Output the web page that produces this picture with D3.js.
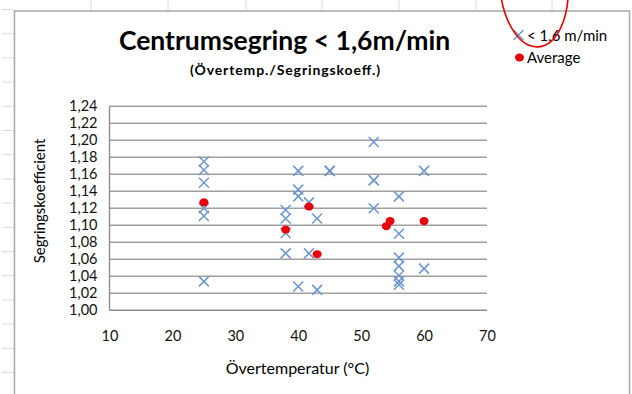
<!DOCTYPE html>
<html>
<head>
<meta charset="utf-8">
<script src="https://cdn.jsdelivr.net/npm/d3@7"></script>
<style>
  html, body { margin: 0; padding: 0; background: #fff; }
  svg { display: block; font-family: Lato, "Open Sans", sans-serif; }
</style>
</head>
<body>
<svg id="chart" width="632" height="394"></svg>
<script>
// Series "< 1,6 m/min" (cross markers)
const measuredX = [25, 25, 25, 25, 25, 25,
                   38, 38, 38, 38,
                   40, 40, 40, 40,
                   41.7, 41.7,
                   43, 43,
                   45, 45,
                   52, 52, 52, 52,
                   56, 56, 56, 56, 56, 56, 56,
                   60, 60];
const measuredY = [1.175, 1.165, 1.150, 1.120, 1.111, 1.034,
                   1.118, 1.108, 1.091, 1.067,
                   1.164, 1.142, 1.134, 1.028,
                   1.127, 1.067,
                   1.108, 1.024,
                   1.164, 1.164,
                   1.198, 1.153, 1.153, 1.120,
                   1.134, 1.090, 1.062, 1.052, 1.041, 1.034, 1.030,
                   1.164, 1.049];

// Series "Average" (red dots)
const averageX = [25, 38, 41.7, 43, 54, 54.6, 60];
const averageY = [1.127, 1.095, 1.122, 1.066, 1.099, 1.105, 1.105];

// Axis ticks
const xTicks = [10, 20, 30, 40, 50, 60, 70];
const yTicks = [1.00, 1.02, 1.04, 1.06, 1.08, 1.10, 1.12, 1.14, 1.16, 1.18, 1.20, 1.22, 1.24];

// Texts
const titleText = "Centrumsegring < 1,6m/min";
const subtitleText = "(Övertemp./Segringskoeff.)";
const xTitle = "Övertemperatur (°C)";
const yTitle = "Segringskoefficient";
const legendLabels = ["< 1,6 m/min", "Average"];

/*
** SCALES
*/
let x = d3.scaleLinear().domain([10, 70]).range([109.5, 487]);
let y = d3.scaleLinear().domain([1.00, 1.24]).range([310.3, 106.3]);
let comma = d => d3.format(".2f")(d).replace(".", ",");

let svg = d3.select("#chart");

/*
** SPREADSHEET BACKGROUND (cells behind the chart object)
*/
let cellCols = [91, 168, 246, 322, 399, 476, 552];
svg.selectAll(".cellcol")
  .data(cellCols)
  .enter()
  .append("line")
    .attr("x1", d => d).attr("x2", d => d)
    .attr("y1", 0).attr("y2", 11)
    .attr("stroke", "#d6dce6");

let cellRows = d3.range(0, 16).map(i => 9.5 + i * 24.2);
svg.selectAll(".cellrow")
  .data(cellRows)
  .enter()
  .append("line")
    .attr("x1", 2).attr("x2", 14)
    .attr("y1", d => d).attr("y2", d => d)
    .attr("stroke", "#d6dce6");

// Chart object frame
svg.append("rect")
  .attr("x", 14.5).attr("y", 11)
  .attr("width", 615).attr("height", 400)
  .attr("fill", "#fff")
  .attr("stroke", "#a8a8a8")
  .attr("stroke-width", 1.5);

/*
** GRID AND AXES
*/
svg.append("g")
  .selectAll("line")
  .data(yTicks.slice(1))
  .enter()
  .append("line")
    .attr("x1", x(10)).attr("x2", x(70))
    .attr("y1", d => y(d)).attr("y2", d => y(d))
    .attr("stroke", "#a0a0a0")
    .attr("stroke-width", 1.4);

// Axis lines
svg.append("line")
  .attr("x1", x(10)).attr("x2", x(10))
  .attr("y1", y(1.24)).attr("y2", y(1.00))
  .attr("stroke", "#8c8c8c").attr("stroke-width", 1.4);
svg.append("line")
  .attr("x1", x(10)).attr("x2", x(70))
  .attr("y1", y(1.00)).attr("y2", y(1.00))
  .attr("stroke", "#8c8c8c").attr("stroke-width", 1.4);

let yAxis = svg.append("g")
  .attr("transform", `translate(${x(10)},0)`)
  .call(d3.axisLeft(y).tickValues(yTicks).tickFormat(comma).tickSize(0).tickPadding(12));
yAxis.select(".domain").remove();
yAxis.selectAll("text")
  .attr("font-family", "Lato, sans-serif")
  .attr("font-size", 14.5)
  .attr("fill", "#111");

let xAxis = svg.append("g")
  .attr("transform", `translate(0,${y(1.00)})`)
  .call(d3.axisBottom(x).tickValues(xTicks).tickFormat(d3.format("d")).tickSize(0));
xAxis.select(".domain").remove();
xAxis.selectAll("text")
  .attr("y", 31)
  .attr("dy", 0)
  .attr("font-family", "Lato, sans-serif")
  .attr("font-size", 14.5)
  .attr("fill", "#111");

/*
** MARKS
*/
let crossSize = 5;
let crossPath = (cx, cy) => {
  let p = d3.path();
  p.moveTo(cx - crossSize, cy - crossSize); p.lineTo(cx + crossSize, cy + crossSize);
  p.moveTo(cx - crossSize, cy + crossSize); p.lineTo(cx + crossSize, cy - crossSize);
  return p.toString();
};

svg.append("g")
  .selectAll("path")
  .data(measuredX.map((d, i) => ({x: d, y: measuredY[i]})))
  .enter()
  .append("path")
    .attr("d", d => crossPath(x(d.x), y(d.y)))
    .attr("fill", "none")
    .attr("stroke", "#6d96cd")
    .attr("stroke-width", 1.5);

svg.append("g")
  .selectAll("ellipse")
  .data(averageX.map((d, i) => ({x: d, y: averageY[i]})))
  .enter()
  .append("ellipse")
    .attr("cx", d => x(d.x))
    .attr("cy", d => y(d.y))
    .attr("rx", 4.5)
    .attr("ry", 4)
    .attr("fill", "#e8000b");

/*
** TEXTS
*/
svg.append("text")
  .attr("x", 284.5).attr("y", 50)
  .attr("text-anchor", "middle")
  .attr("font-size", 26.5)
  .attr("font-weight", "bold")
  .attr("fill", "#000")
  .text(titleText);

svg.append("text")
  .attr("x", 285).attr("y", 75)
  .attr("text-anchor", "middle")
  .attr("font-size", 14)
  .attr("font-weight", "bold")
  .attr("textLength", 190)
  .attr("fill", "#000")
  .text(subtitleText);

svg.append("text")
  .attr("x", 297.5).attr("y", 374)
  .attr("text-anchor", "middle")
  .attr("font-size", 16)
  .attr("fill", "#000")
  .text(xTitle);

svg.append("text")
  .attr("transform", "translate(45,201) rotate(-90)")
  .attr("text-anchor", "middle")
  .attr("font-size", 15)
  .attr("fill", "#000")
  .text(yTitle);

/*
** LEGEND
*/
let legend = svg.append("g");
legend.append("path")
  .attr("d", crossPath(518.5, 35))
  .attr("fill", "none")
  .attr("stroke", "#6d96cd")
  .attr("stroke-width", 1.5);
legend.append("ellipse")
  .attr("cx", 519.5).attr("cy", 57.5)
  .attr("rx", 4.5).attr("ry", 4)
  .attr("fill", "#e8000b");
legend.selectAll("text")
  .data(legendLabels)
  .enter()
  .append("text")
    .attr("x", 527)
    .attr("y", (d, i) => 40.5 + i * 22.5)
    .attr("font-size", 15)
    .attr("fill", "#000")
    .text(d => d);

// Hand-drawn red ellipse on top of the sheet
svg.append("ellipse")
  .attr("cx", 534).attr("cy", -15)
  .attr("rx", 34).attr("ry", 62)
  .attr("transform", "rotate(-4,534,-15)")
  .attr("fill", "none")
  .attr("stroke", "#e60000")
  .attr("stroke-width", 1.6);
</script>
</body>
</html>
